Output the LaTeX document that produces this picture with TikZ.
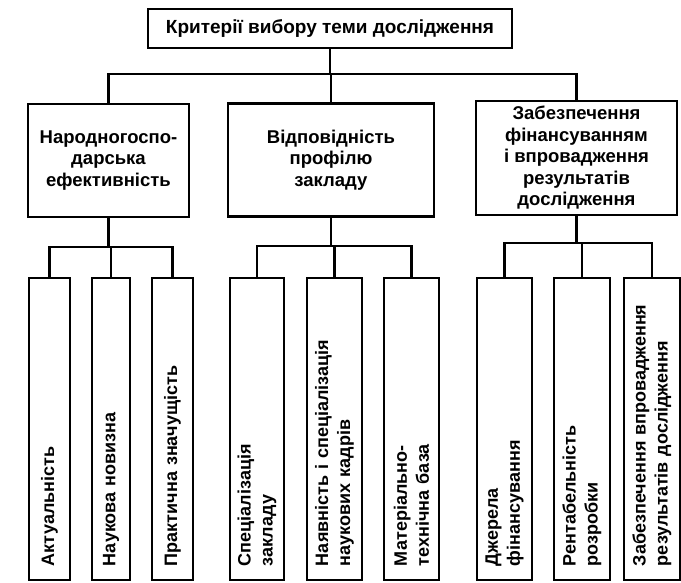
\documentclass[tikz,border=0pt]{standalone}
\usepackage{fontspec}
\setmainfont{Liberation Sans}
\begin{document}
\begin{tikzpicture}[x=1pt,y=1pt,
  frame/.style={draw, line width=2.4pt, inner sep=0pt, align=center,
                font=\bfseries\fontsize{18.5}{21.5}\selectfont},
  link/.style={line width=2.4pt},
  leaf/.style={frame, rotate=90, minimum width=302pt, text width=274pt,
               inner xsep=14pt, align=left,
               font=\bfseries\fontsize{18}{22}\selectfont}]
\useasboundingbox (0,0) rectangle (681,-583);

% root
\node[frame, minimum width=364pt, minimum height=39pt,
      font=\bfseries\fontsize{19}{22}\selectfont] (top) at (330,-28.5)
  {Критерії вибору теми дослідження};

% second level
\node[frame, minimum width=161pt, minimum height=113pt] (n1) at (108.5,-160.5)
  {Народногоспо-\\дарська\\ефективність};
\node[frame, minimum width=206pt, minimum height=113pt] (n2) at (331,-160)
  {Відповідність\\профілю\\закладу};
\node[frame, minimum width=201pt, minimum height=114pt] (n3) at (576.5,-158)
  {Забезпечення\\фінансуванням\\і впровадження\\результатів\\дослідження};

% third level (vertical text, read bottom to top)
\node[leaf, minimum height=41pt] (l1) at (49.5,-429) {Актуальність};
\node[leaf, minimum height=38pt] (l2) at (111,-429) {Наукова новизна};
\node[leaf, minimum height=41pt] (l3) at (172.5,-429) {Практична значущість};
\node[leaf, minimum height=54pt] (l4) at (257,-429) {Спеціалізація\\закладу};
\node[leaf, minimum height=55pt] (l5) at (334.5,-429) {Наявність і спеціалізація\\наукових кадрів};
\node[leaf, minimum height=55pt] (l6) at (411.5,-429) {Матеріально-\\технічна база};
\node[leaf, minimum height=55pt] (l7) at (504.5,-429) {Джерела\\фінансування};
\node[leaf, minimum height=56pt] (l8) at (582,-429) {Рентабельність\\розробки};
\node[leaf, minimum height=56pt] (l9) at (652,-429) {Забезпечення впровадження\\результатів дослідження};

% junctions of the buses
\coordinate (j0) at (330,-74);
\coordinate (j1) at (108.5,-247);
\coordinate (j2) at (331,-246);
\coordinate (j3) at (576.5,-243);

% root to second level
\draw[link] (top.south) -- (j0);
\draw[link] (j0) -| (n1.north);
\draw[link] (j0) -| (n2.north);
\draw[link] (j0) -| (n3.north);

% second level to third level
\draw[link] (n1.south) -- (j1);
\draw[link] (j1) -| (l1.east);
\draw[link] (j1) -| (l2.east);
\draw[link] (j1) -| (l3.east);

\draw[link] (n2.south) -- (j2);
\draw[link] (j2) -| (l4.east);
\draw[link] (j2) -| (l5.east);
\draw[link] (j2) -| (l6.east);

\draw[link] (n3.south) -- (j3);
\draw[link] (j3) -| (l7.east);
\draw[link] (j3) -| (l8.east);
\draw[link] (j3) -| (l9.east);
\end{tikzpicture}
\end{document}
